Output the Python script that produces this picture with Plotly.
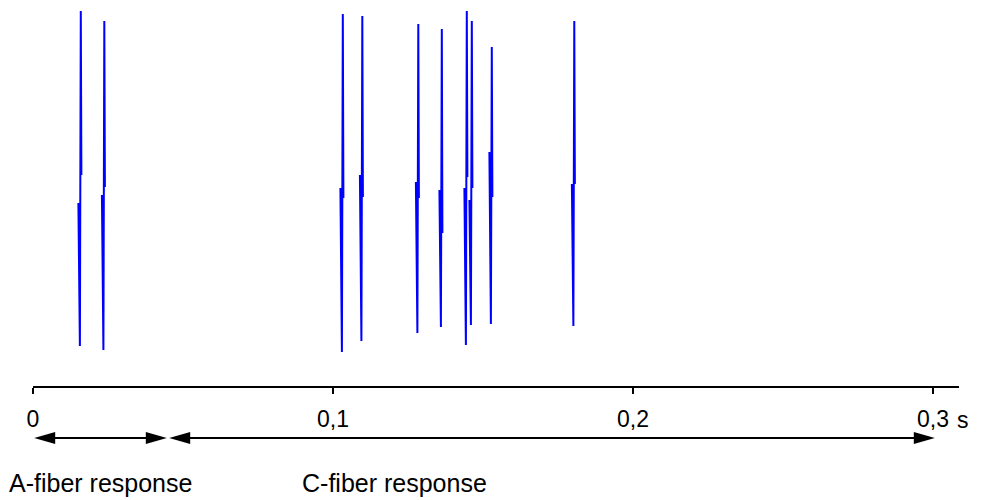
import plotly.graph_objects as go

# Spike train: one entry per action potential (time in s, amplitudes in arbitrary units)
spike_times = [0.01583, 0.02367, 0.10317, 0.10967, 0.12833,
               0.13617, 0.14450, 0.14617, 0.15283, 0.18033]
pre_level = [-0.11, -0.03, 0.04, 0.17, 0.10, 0.02, 0.04, -0.08, 0.40, 0.08]
trough = [-1.54, -1.58, -1.60, -1.49, -1.41, -1.35, -1.53, -1.33, -1.32, -1.34]
peak = [1.81, 1.71, 1.78, 1.76, 1.68, 1.63, 1.81, 1.71, 1.45, 1.71]
post_level = [0.17, 0.05, -0.06, -0.05, -0.06, -0.41, 0.15, 0.04, -0.05, 0.08]

# Time axis
tick_vals = [0, 0.1, 0.2, 0.3]
tick_text = ["0", "0,1", "0,2", "0,3"]
time_unit = "s"

# Response windows
a_fiber = (0.0, 0.045)
c_fiber = (0.045, 0.301)
a_label = "A-fiber response"
c_label = "C-fiber response"

FONT = "Liberation Sans, Arial, sans-serif"
BLUE = "#0000FF"

# Sample offsets (s) of the four waveform points inside each spike
offsets = [-0.0007, -0.0002, 0.0001, 0.0003]

xs, ys = [], []
for t, a, b, c, d in zip(spike_times, pre_level, trough, peak, post_level):
    for off, v in zip(offsets, (a, b, c, d)):
        xs.append(t + off)
        ys.append(v)
    xs.append(None)
    ys.append(None)

fig = go.Figure(go.Scatter(
    x=xs, y=ys, mode="lines",
    line=dict(color=BLUE, width=2),
    connectgaps=False, hoverinfo="skip", showlegend=False,
))

W, H = 981, 500
ML, MR, MT, MB = 33, 22, 0, 114
plot_w = W - ML - MR
plot_h = H - MT - MB
x_max = 0.30867

fig.update_layout(
    width=W, height=H,
    margin=dict(l=ML, r=MR, t=MT, b=MB),
    paper_bgcolor="white", plot_bgcolor="white",
    font=dict(family=FONT, size=23, color="black"),
    xaxis=dict(
        range=[0, x_max], showgrid=False, zeroline=False,
        showline=True, linecolor="black", linewidth=2,
        ticks="outside", ticklen=6, tickwidth=2, tickcolor="black",
        tickvals=tick_vals, ticktext=tick_text,
        ticklabelstandoff=5,
        tickfont=dict(family=FONT, size=23, color="black"),
    ),
    yaxis=dict(range=[-1.94, 1.92], visible=False, showgrid=False, zeroline=False),
)

# Double-headed arrows marking the response windows
px_per_s = plot_w / x_max
head_len = 21 / px_per_s
head_half = 6 / plot_h
arrow_y = -52 / plot_h
inset = 0.0004

shapes = []
for lo, hi in (a_fiber, c_fiber):
    left_tip, right_tip = lo + inset, hi - inset
    shapes.append(dict(
        type="line", xref="x", yref="paper",
        x0=left_tip + head_len * 0.5, x1=right_tip - head_len * 0.5,
        y0=arrow_y, y1=arrow_y, line=dict(color="black", width=2),
    ))
    shapes.append(dict(
        type="path", xref="x", yref="paper",
        path=f"M{left_tip},{arrow_y} L{left_tip + head_len},{arrow_y + head_half} "
             f"L{left_tip + head_len},{arrow_y - head_half} Z",
        fillcolor="black", line=dict(color="black", width=0),
    ))
    shapes.append(dict(
        type="path", xref="x", yref="paper",
        path=f"M{right_tip},{arrow_y} L{right_tip - head_len},{arrow_y + head_half} "
             f"L{right_tip - head_len},{arrow_y - head_half} Z",
        fillcolor="black", line=dict(color="black", width=0),
    ))
fig.update_layout(shapes=shapes)

label_y = -97 / plot_h
fig.add_annotation(
    x=(a_fiber[0] + a_fiber[1]) / 2, y=label_y, xref="x", yref="paper",
    text=a_label, showarrow=False, xanchor="center", yanchor="middle",
    font=dict(family=FONT, size=25, color="black"),
)
fig.add_annotation(
    x=0.089, y=label_y, xref="x", yref="paper",
    text=c_label, showarrow=False, xanchor="left", yanchor="middle",
    font=dict(family=FONT, size=25, color="black"),
)
# Unit next to the last tick label
fig.add_annotation(
    x=tick_vals[-1], y=-33.5 / plot_h, xref="x", yref="paper",
    text=time_unit, showarrow=False, xanchor="left", yanchor="middle",
    xshift=22, font=dict(family=FONT, size=23, color="black"),
)

fig.write_html("out.html")
